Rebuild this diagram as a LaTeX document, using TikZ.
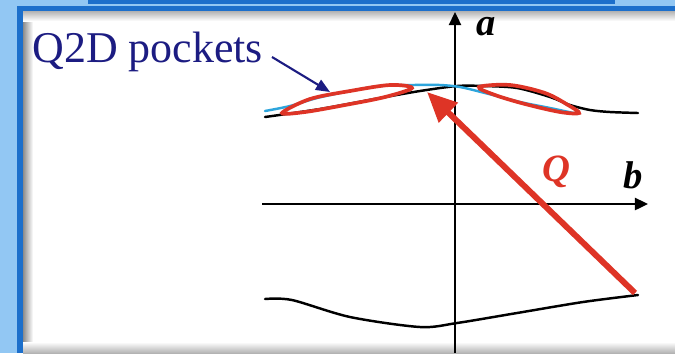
\documentclass[tikz,border=0pt]{standalone}
\usepackage{fontspec}
\setmainfont{Liberation Serif}
\usetikzlibrary{arrows.meta, positioning}
\definecolor{skyblue}{RGB}{146,199,243}
\definecolor{frameblue}{RGB}{28,111,203}
\definecolor{labelnavy}{RGB}{28,28,130}
\definecolor{pocketred}{RGB}{222,52,38}
\definecolor{fermicyan}{RGB}{45,165,220}

\begin{document}
\begin{tikzpicture}[x=0.02cm, y=-0.02cm,
  axis/.style={-{Triangle[length=7.5pt, width=7pt]}, line width=1.1pt},
  fermi/.style={line width=1.4pt, line cap=round},
  pocket/.style={draw=pocketred, line width=2.1pt},
  qvec/.style={-{Triangle[length=17pt, width=15pt]}, draw=pocketred, line width=3.4pt},
  pointer/.style={-{Triangle[length=8pt, width=6.5pt]}, draw=labelnavy, line width=1.2pt},
  axislbl/.style={font=\fontsize{22}{26}\selectfont\bfseries\itshape, inner sep=0pt}
]
  \useasboundingbox (0,0) rectangle (675,353);
  % frame
  \fill[skyblue] (0,0) rectangle (675,353);
  \fill[frameblue] (88,0) rectangle (615,3.5);
  \fill[frameblue] (17,6) rectangle (675,353);
  \fill[white] (23,11) rectangle (675,353);
  \shade[left color=black!45, right color=white] (23,11) rectangle (33,353);
  \shade[top color=black!30, bottom color=white] (23,11) rectangle (675,21);
  \shade[top color=white, bottom color=black!30] (23,342) rectangle (675,353);

  % axes
  \coordinate (ybot) at (455,353);
  \coordinate (ytop) at (455,12);
  \coordinate (xleft) at (262,204);
  \coordinate (xright) at (648,204);
  \draw[axis] (ybot) -- (ytop);
  \draw[axis] (xleft) -- (xright);
  \node[axislbl] (lbla) at (486,27) {a};
  \node[axislbl] (lblb) at (633,175) {b};

  % Fermi surface sheets
  \draw[fermi] plot[smooth] coordinates {(265,117) (320,109) (380,98) (420,91)
    (457,86) (483,86) (517,88) (550,97) (570,105) (590,110) (610,112) (638,113)};
  \draw[fermi, fermicyan] plot[smooth] coordinates {(265,111) (290,106) (317,98)
    (350,91) (380,86) (413,85) (440,85) (460,87) (485,93) (520,102) (550,108) (578,114)};
  \draw[fermi] plot[smooth] coordinates {(265,299) (292,300) (350,317) (420,327)
    (457,323) (517,313) (583,302) (638,295)};

  % pockets
  \draw[pocket] plot[smooth cycle, tension=0.55] coordinates {(282,113) (310,99)
    (350,91) (390,85) (412,88) (385,97) (345,105) (305,112)};
  \draw[pocket] plot[smooth cycle, tension=0.55] coordinates {(479,87) (510,85)
    (545,93) (568,105) (579,113) (560,112) (525,104) (495,95)};

  % nesting vector
  \coordinate (qtail) at (635,293);
  \coordinate (qtip) at (427,92);
  \draw[qvec] (qtail) -- (qtip);
  \node[axislbl, text=pocketred] (lblq) at (556,172) {Q};

  % label
  \node[anchor=base west, inner sep=0pt, text=labelnavy,
        font=\fontsize{25}{30}\selectfont] (pockets) at (32,62) {Q2D pockets};
  \coordinate (ptrstart) at (272,57);
  \coordinate (ptrend) at (330,92);
  \draw[pointer] (ptrstart) -- (ptrend);
\end{tikzpicture}
\end{document}
